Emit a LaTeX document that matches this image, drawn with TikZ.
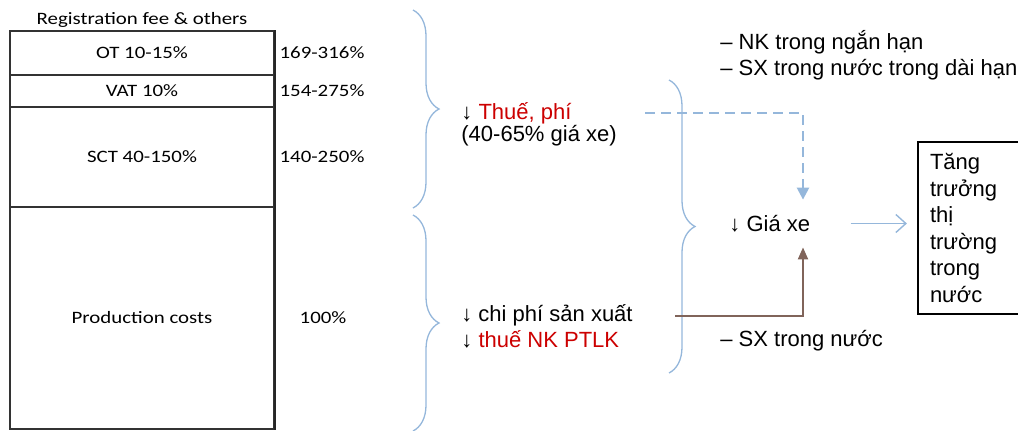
\documentclass[tikz,border=0pt]{standalone}
\usepackage{fontspec}
\setmainfont{Liberation Sans}
\newfontfamily\tablefont[FakeStretch=1.2]{Carlito}
\usepackage{xcolor}
\usetikzlibrary{arrows.meta,decorations.pathreplacing,positioning}

\definecolor{bracecol}{RGB}{149,183,219}
\definecolor{taxred}{RGB}{204,0,0}
\definecolor{arrowbrown}{RGB}{128,100,90}

\tikzset{
	cell/.style={draw=black!80, line width=0.6pt, minimum width=132pt,
		inner sep=0pt, font=\tablefont\fontsize{8.7}{10}\selectfont},
	pct/.style={inner sep=0pt, font=\tablefont\fontsize{8.7}{10}\selectfont},
	txt/.style={anchor=base west, inner sep=0pt, font=\fontsize{11}{13}\selectfont},
	curly/.style={draw=bracecol, line width=0.65pt, decorate,
		decoration={brace, amplitude=13pt}},
	growthbox/.style={draw=black, line width=1.1pt, align=left,
		minimum height=86pt, text width=41pt, inner xsep=6pt,
		font=\fontsize{11}{13.25}\selectfont}
}

\begin{document}
\begin{tikzpicture}[x=0.5pt,y=-0.5pt]
			\useasboundingbox (0,0) rectangle (1018,430);
			%
			% cost structure table
			\node[pct] (title) at (142,20) {Registration fee \& others};
			\node[cell, minimum height=22pt] (ot) at (142,53) {OT 10-15\%};
			\node[cell, minimum height=16pt] (vat) at (142,91) {VAT 10\%};
			\node[cell, minimum height=50pt] (sct) at (142,157) {SCT 40-150\%};
			\node[cell, minimum height=111pt] (prod) at (142,318) {Production costs};
			\draw[line width=1.1pt, black!85] (ot.north east) -- (prod.south east);
			\node[pct] (otpct) at (322,53) {169-316\%};
			\node[pct] (vatpct) at (322,91) {154-275\%};
			\node[pct] (sctpct) at (322,157) {140-250\%};
			\node[pct] (prodpct) at (323,318) {100\%};
			%
			% braces
			\coordinate (taxtop) at (413,10);
			\coordinate (taxbot) at (413,208);
			\coordinate (costtop) at (413,215);
			\coordinate (costbot) at (413,431);
			\coordinate (pricetop) at (669,80);
			\coordinate (pricebot) at (669,373);
			\draw[curly] (taxtop) -- (taxbot);
			\draw[curly] (costtop) -- (costbot);
			\draw[curly] (pricetop) -- (pricebot);
			%
			% texts
			\node[txt] (thue) at (461,119.3) {↓ \textcolor{taxred}{Thuế, phí}};
			\node[txt] (thuepct) at (461,141.7) {(40-65\% giá xe)};
			\node[txt] (chiphi) at (461,321.7) {↓ chi phí sản xuất};
			\node[txt] (ptlk) at (461,347.7) {↓ \textcolor{taxred}{thuế NK PTLK}};
			\node[txt] (nk) at (720,49.3) {– NK trong ngắn hạn};
			\node[txt] (sxdai) at (720,75) {– SX trong nước trong dài hạn};
			\node[txt] (sx) at (720,346.7) {– SX trong nước};
			\node[txt, anchor=west, minimum height=23.5pt] (gia) at (729,223.5) {↓ Giá xe};
			\node[growthbox] (growth) at (971,228) {Tăng\\trưởng\\thị\\trường\\trong\\nước};
			%
			% arrows
			\coordinate (dashstart) at (645,113);
			\coordinate (dashturn) at (803,113);
			\coordinate (brownstart) at (675,315.5);
			\coordinate (brownturn) at (803,315.5);
			\draw[bracecol, line width=1.2pt, dash pattern=on 5pt off 3pt,
				-{Triangle[length=6pt,width=6pt]}]
				(dashstart) -- (dashturn) -- (gia.north -| dashturn);
			\draw[arrowbrown, line width=1pt, -{Triangle[length=6pt,width=5pt]}]
				(brownstart) -- (brownturn) -- (gia.south -| brownturn);
			\draw[bracecol, line width=0.7pt, -{Straight Barb[length=5pt,width=9pt]},
				shorten <=20pt, shorten >=5pt] (gia.east) -- (gia.east -| growth.west);
\end{tikzpicture}
\end{document}
